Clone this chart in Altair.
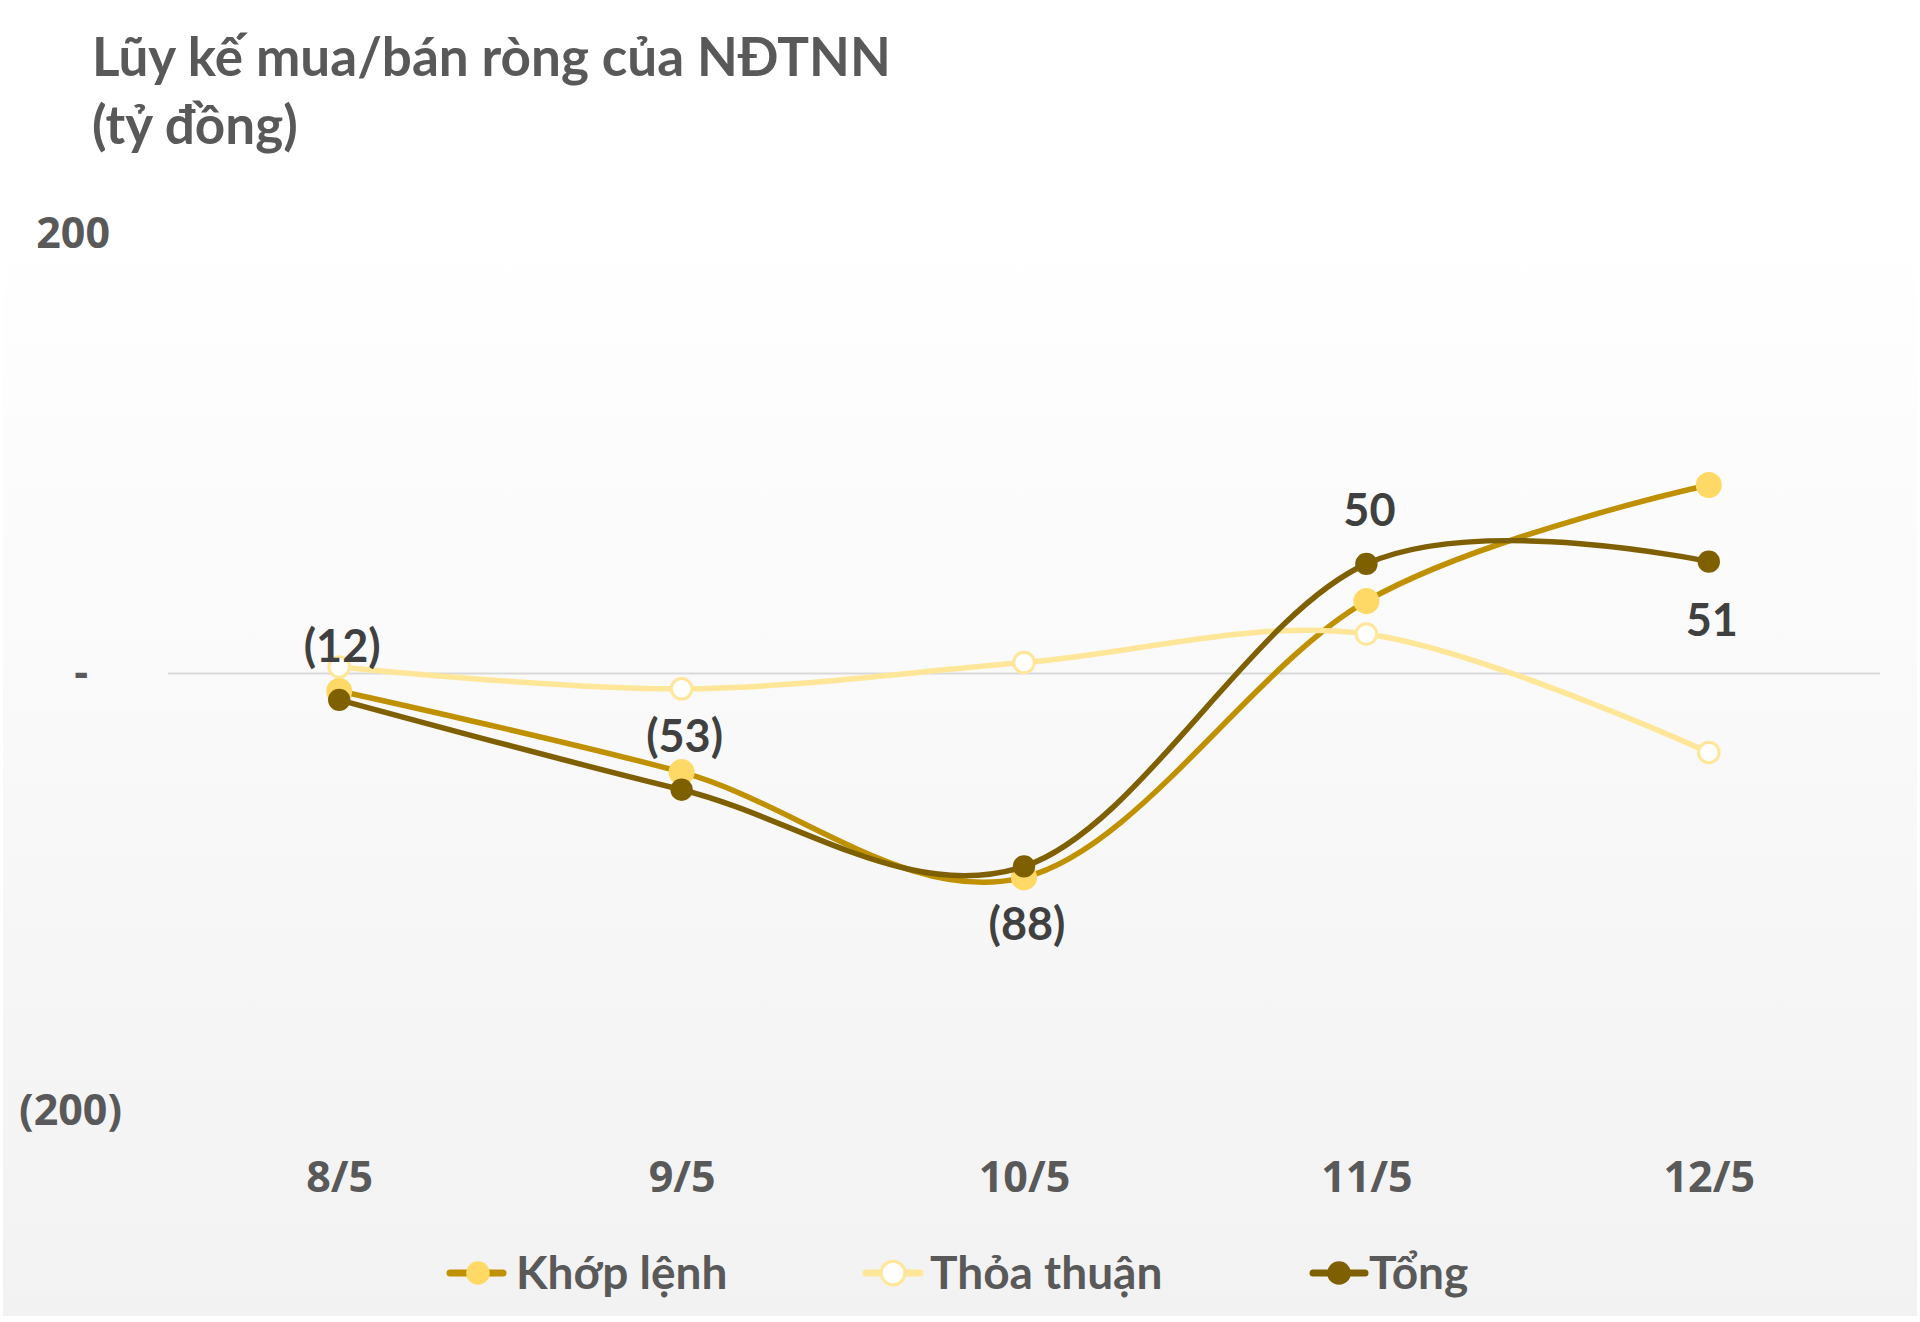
import altair as alt
import pandas as pd

# ---- data ----
dates = ["8/5", "9/5", "10/5", "11/5", "12/5"]
khop = [-8, -45, -93, 33, 86]      # Khớp lệnh
thoa = [3, -7, 5, 18, -36]         # Thỏa thuận
tong = [-12, -53, -88, 50, 51]     # Tổng
tong_label_pos = ["above", "above", "below", "above", "below"]

y_tick_values = [200, 0, -200]
y_tick_labels = ["200", "-", "(200)"]

series_names = ["Khớp lệnh", "Thỏa thuận", "Tổng"]
line_colors = ["#BF9000", "#FFE699", "#7F6000"]
marker_fill = ["#FFD966", "#FFFFFF", "#7F6000"]
marker_stroke = ["#FFD966", "#FFE699", "#7F6000"]
marker_size = [680, 420, 500]

title_lines = ["Lũy kế mua/bán ròng của NĐTNN", "(tỷ đồng)"]

# ---- layout ----
W, H = 1712, 877
PAD = {"left": 168, "top": 235, "right": 40, "bottom": 210}
Y_LABEL_DX = [-58, -80, -46]   # accounting-style alignment of the y labels

rows = []
for name, vals in zip(series_names, [khop, thoa, tong]):
    for d, v in zip(dates, vals):
        rows.append({"date": d, "value": v, "series": name})
df = pd.DataFrame(rows)

lab = pd.DataFrame({"date": dates, "value": tong, "pos": tong_label_pos})

y_scale = alt.Scale(domain=[-200, 200], nice=False)

x_enc = alt.X("date:N", sort=dates,
              scale=alt.Scale(type="point", padding=0.5),
              axis=alt.Axis(title=None, domain=False, ticks=False, tickSize=0,
                            labelFont="Open Sans", labelFontWeight="bold",
                            labelFontSize=43, labelColor="#595959",
                            labelPadding=79, labelBaseline="alphabetic",
                            labelAngle=0, grid=False, zindex=2))
y_enc = alt.Y("value:Q", scale=y_scale, axis=None)

one = pd.DataFrame({"k": [0]})

gradient = alt.Gradient(
    gradient="linear",
    stops=[alt.GradientStop(color="#FFFFFF", offset=0),
           alt.GradientStop(color="#F2F2F2", offset=1)],
    x1=0, x2=0, y1=0, y2=1,
)
bg = alt.Chart(one).mark_rect(fill=gradient).encode(
    x=alt.value(3 - PAD["left"]), x2=alt.value(1917 - PAD["left"]),
    y=alt.value(222 - PAD["top"]), y2=alt.value(1316 - PAD["top"]),
)

zero = alt.Chart(pd.DataFrame({"value": [0]})).mark_rule(color="#D9D9D9", strokeWidth=2).encode(
    y=alt.Y("value:Q", scale=y_scale, axis=None),
    x=alt.value(0), x2=alt.value(W),
)

layers = [bg, zero]

# y-axis labels (text on the y scale)
for v, t, dx in zip(y_tick_values, y_tick_labels, Y_LABEL_DX):
    layers.append(alt.Chart(pd.DataFrame({"value": [v], "t": [t]})).mark_text(
        font="Open Sans", fontWeight="bold", fontSize=43, color="#595959",
        align="right", baseline="middle", dx=dx).encode(
        x=alt.value(0), y=alt.Y("value:Q", scale=y_scale, axis=None), text="t:N"))

for name, lc, mf, ms, sz in zip(series_names, line_colors, marker_fill, marker_stroke, marker_size):
    sub = alt.Chart(df).transform_filter(alt.datum.series == name)
    line = sub.mark_line(color=lc, strokeWidth=5.5, interpolate="cardinal", tension=0).encode(
        x=x_enc, y=y_enc)
    pts = sub.mark_point(filled=True, shape="circle", size=sz, fill=mf, stroke=ms,
                         strokeWidth=3 if name == "Thỏa thuận" else 0, opacity=1).encode(
        x=x_enc, y=y_enc)
    layers += [line, pts]

label_expr = "datum.value < 0 ? '(' + format(-datum.value, ',') + ')' : format(datum.value, ',')"
above = alt.Chart(lab).transform_filter(alt.datum.pos == "above").transform_calculate(
    txt=label_expr).mark_text(font="Lato", fontWeight="bold", fontSize=45, color="#404040",
                              baseline="alphabetic", dy=-38, dx=3).encode(
    x=x_enc, y=y_enc, text="txt:N")
below = alt.Chart(lab).transform_filter(alt.datum.pos == "below").transform_calculate(
    txt=label_expr).mark_text(font="Lato", fontWeight="bold", fontSize=45, color="#404040",
                              baseline="alphabetic", dy=74, dx=3).encode(
    x=x_enc, y=y_enc, text="txt:N")
layers += [above, below]

# ---- legend (manual, bottom centre) ----
leg_y = 1273 - PAD["top"]
leg_items = [(450, 503, 478, 516), (866, 920, 893, 930), (1313, 1365, 1339, 1369)]
for (x0, x1, cx, tx), name, lc, mf, ms in zip(leg_items, series_names, line_colors, marker_fill, marker_stroke):
    L = PAD["left"]
    layers.append(alt.Chart(one).mark_rule(color=lc, strokeWidth=7, strokeCap="round").encode(
        x=alt.value(x0 - L), x2=alt.value(x1 - L), y=alt.value(leg_y)))
    layers.append(alt.Chart(one).mark_point(filled=True, shape="circle", size=560, fill=mf, stroke=ms,
                                            strokeWidth=3 if name == "Thỏa thuận" else 0,
                                            opacity=1).encode(
        x=alt.value(cx - L), y=alt.value(leg_y)))
    layers.append(alt.Chart(one).mark_text(text=name, font="Lato", fontWeight="bold", fontSize=46,
                                           color="#595959", align="left", baseline="alphabetic").encode(
        x=alt.value(tx - L), y=alt.value(1289 - PAD["top"])))

title = alt.Chart(one).mark_text(text=title_lines, font="Lato", fontWeight="bold", fontSize=53,
                                 color="#595959", align="left", baseline="alphabetic",
                                 lineHeight=68).encode(
    x=alt.value(92 - PAD["left"]), y=alt.value(76 - PAD["top"]))
layers.append(title)

chart = alt.layer(*layers).properties(
    width=W, height=H, autosize="none", padding=PAD, background="#FFFFFF"
).configure_view(stroke=None)

chart.save("out.html", embed_options={"renderer": "svg", "actions": False})
